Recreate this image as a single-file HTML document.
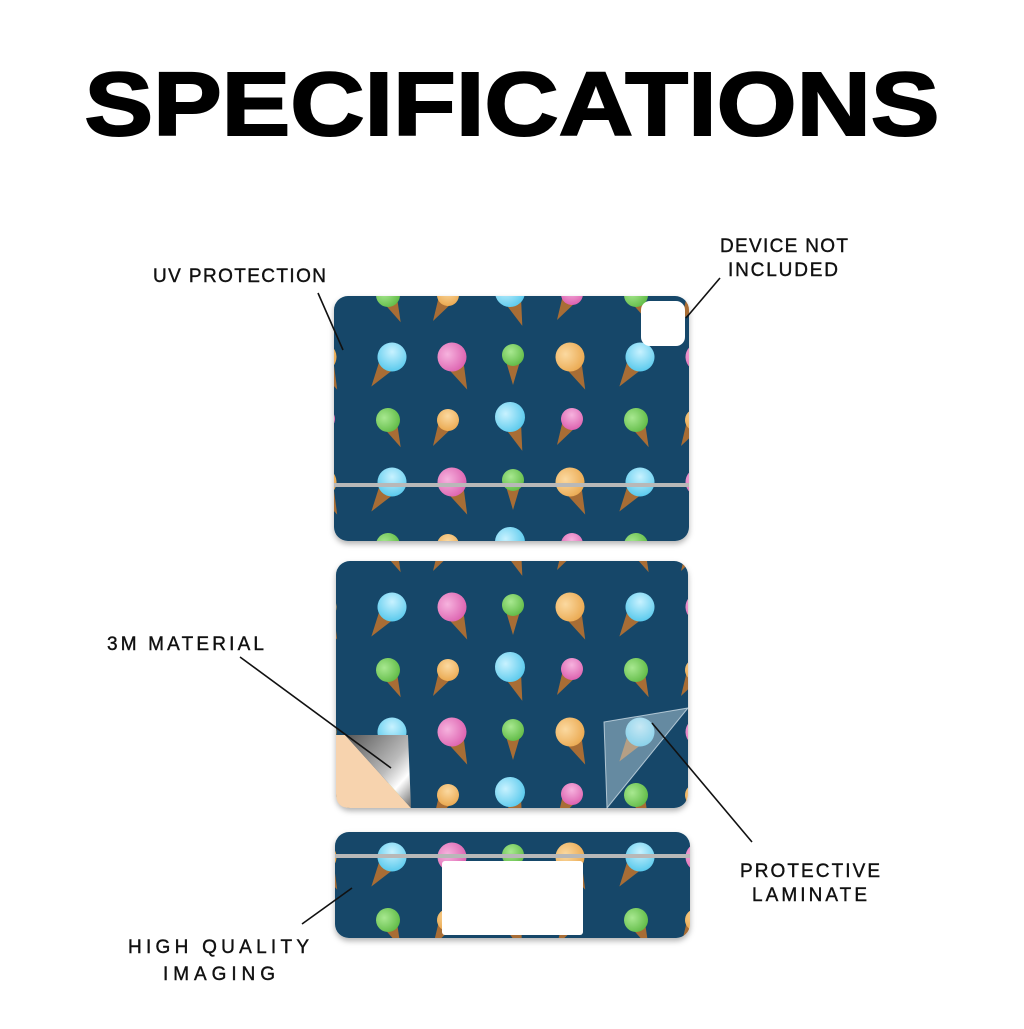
<!DOCTYPE html><html><head><style>body{margin:0;background:#fff}</style></head><body>
<svg width="1024" height="1024" viewBox="0 0 1024 1024" xmlns="http://www.w3.org/2000/svg" font-family="Liberation Sans, sans-serif">
<defs>
<radialGradient id="gb" cx=".4" cy=".35" r=".7"><stop offset="0" stop-color="#c8f2ff"/><stop offset="1" stop-color="#56c8ec"/></radialGradient>
<radialGradient id="gp" cx=".4" cy=".35" r=".7"><stop offset="0" stop-color="#f6b3de"/><stop offset="1" stop-color="#dc5fae"/></radialGradient>
<radialGradient id="gg" cx=".4" cy=".35" r=".7"><stop offset="0" stop-color="#a8e890"/><stop offset="1" stop-color="#5fba45"/></radialGradient>
<radialGradient id="go" cx=".4" cy=".35" r=".7"><stop offset="0" stop-color="#fbd9a0"/><stop offset="1" stop-color="#eaa84f"/></radialGradient>
<g id="cone"><path d="M-10,4 L10,4 L0,36 Z" fill="#a86d35"/></g>
<g id="cones"><path d="M-8,3 L8,3 L0,30 Z" fill="#a86d35"/></g>
<pattern id="pat" patternUnits="userSpaceOnUse" x="330" y="232" width="248" height="125">
<rect width="248" height="125" fill="#124769"/>
<g transform="translate(62,125) rotate(35)"><use href="#cone"/><circle r="14.5" fill="url(#gb)"/></g>
<g transform="translate(62,0) rotate(35)"><use href="#cone"/><circle r="14.5" fill="url(#gb)"/></g>
<g transform="translate(122,125) rotate(-25)"><use href="#cone"/><circle r="14.5" fill="url(#gp)"/></g>
<g transform="translate(122,0) rotate(-25)"><use href="#cone"/><circle r="14.5" fill="url(#gp)"/></g>
<g transform="translate(183,123)"><use href="#cones"/><circle r="11" fill="url(#gg)"/></g>
<g transform="translate(183,-2)"><use href="#cones"/><circle r="11" fill="url(#gg)"/></g>
<g transform="translate(240,125) rotate(-25)"><use href="#cone"/><circle r="14.5" fill="url(#go)"/></g>
<g transform="translate(240,0) rotate(-25)"><use href="#cone"/><circle r="14.5" fill="url(#go)"/></g>
<g transform="translate(-8,125) rotate(-25)"><use href="#cone"/><circle r="14.5" fill="url(#go)"/></g>
<g transform="translate(-8,0) rotate(-25)"><use href="#cone"/><circle r="14.5" fill="url(#go)"/></g>
<g transform="translate(58,63) rotate(-25)"><use href="#cones"/><circle r="12" fill="url(#gg)"/></g>
<g transform="translate(118,63) rotate(30)"><use href="#cones"/><circle r="11" fill="url(#go)"/></g>
<g transform="translate(180,60) rotate(-20)"><use href="#cone"/><circle r="15" fill="url(#gb)"/></g>
<g transform="translate(242,62) rotate(30)"><use href="#cones"/><circle r="11" fill="url(#gp)"/></g>
<g transform="translate(-6,62) rotate(30)"><use href="#cones"/><circle r="11" fill="url(#gp)"/></g>
</pattern>
<filter id="sh" x="-5%" y="-5%" width="110%" height="115%"><feDropShadow dx="0" dy="3" stdDeviation="3" flood-color="#000" flood-opacity=".3"/></filter>
<linearGradient id="sil" x1="0" y1="0" x2="1" y2="1"><stop offset="0" stop-color="#555"/><stop offset=".55" stop-color="#bbb"/><stop offset=".75" stop-color="#fff"/><stop offset="1" stop-color="#666"/></linearGradient>
</defs>
<text x="512" y="135" text-anchor="middle" font-size="90" font-weight="bold" textLength="855" lengthAdjust="spacingAndGlyphs" stroke="#000" stroke-width="2">SPECIFICATIONS</text>

<g filter="url(#sh)">
<rect x="334" y="296" width="355" height="245" rx="14" fill="url(#pat)"/>
<rect x="336" y="561" width="352" height="247" rx="14" fill="url(#pat)"/>
<rect x="335" y="832" width="355" height="106" rx="14" fill="url(#pat)"/>
</g>
<rect x="334" y="483" width="355" height="4" fill="#b8b8b8"/>
<rect x="335" y="854" width="355" height="4" fill="#b8b8b8"/>
<rect x="641" y="301" width="44" height="45" rx="9" fill="#fff"/>
<rect x="442" y="861" width="141" height="74" rx="3" fill="#fff"/>
<path d="M336,735 L345,735 L411,808 L350,808 Q336,808 336,794 Z" fill="#f7d3ae"/>
<path d="M345,735 L408,735 L411,808 Z" fill="url(#sil)"/>
<path d="M604,722 L688,708 L607,808 Z" fill="#c6dbe6" fill-opacity=".45" stroke="#e0ecf3" stroke-opacity=".7"/>

<g stroke="#111" stroke-width="1.6">
<line x1="318" y1="293" x2="343" y2="350"/>
<line x1="720" y1="278" x2="686" y2="318"/>
<line x1="240" y1="657" x2="391" y2="768"/>
<line x1="652" y1="723" x2="752" y2="842"/>
<line x1="302" y1="924" x2="352" y2="888"/>
</g>
<g font-size="19" fill="#111" stroke="#111" stroke-width=".4">
<text x="153" y="282" textLength="173">UV PROTECTION</text>
<text x="720" y="252" textLength="128">DEVICE NOT</text>
<text x="728" y="276" textLength="110">INCLUDED</text>
<text x="107" y="650" textLength="157">3M MATERIAL</text>
<text x="740" y="877" textLength="140">PROTECTIVE</text>
<text x="752" y="901" textLength="115">LAMINATE</text>
<text x="128" y="953" textLength="181">HIGH QUALITY</text>
<text x="163" y="980" textLength="112">IMAGING</text>
</g>
</svg>
</body></html>
